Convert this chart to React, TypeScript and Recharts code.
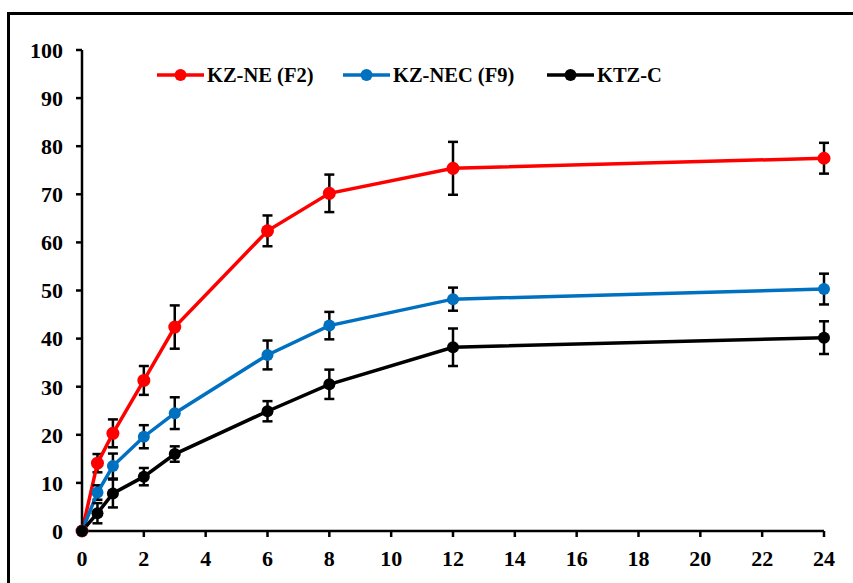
import React from 'react';
import { LineChart, Line, XAxis, YAxis, ErrorBar } from 'recharts';

const times = [0, 0.5, 1, 2, 3, 6, 8, 12, 24];
const kzNE = [0, 14.1, 20.3, 31.3, 42.4, 62.4, 70.2, 75.4, 77.5];
const kzNEErr = [0, 1.9, 2.9, 3.0, 4.5, 3.2, 3.9, 5.5, 3.2];
const kzNEC = [0, 8.0, 13.5, 19.6, 24.5, 36.6, 42.7, 48.2, 50.3];
const kzNECErr = [0, 1.5, 2.6, 2.4, 3.3, 3.0, 2.85, 2.4, 3.2];
const ktzC = [0, 3.7, 7.8, 11.3, 16.0, 24.9, 30.5, 38.2, 40.2];
const ktzCErr = [0, 2.1, 2.9, 1.8, 1.6, 2.1, 3.05, 3.9, 3.4];

const xTicks = [0, 2, 4, 6, 8, 10, 12, 14, 16, 18, 20, 22, 24];
const yTicks = [0, 10, 20, 30, 40, 50, 60, 70, 80, 90, 100];

const seriesNames = ['KZ-NE (F2)', 'KZ-NEC (F9)', 'KTZ-C'];
const seriesColors = ['#FF0000', '#0070C0', '#000000'];

const data = times.map((t, i) => ({
  t,
  ne: kzNE[i],
  neErr: kzNEErr[i],
  nec: kzNEC[i],
  necErr: kzNECErr[i],
  c: ktzC[i],
  cErr: ktzCErr[i],
}));

const FONT = "'Liberation Serif', Tinos, Times, 'DejaVu Serif', serif";
const tickStyle = { fill: '#000', fontSize: 22, fontWeight: 700, fontFamily: FONT, style: { fontFamily: FONT } };

const SerifTick = (props: any) => {
  const { x, y, payload, textAnchor, verticalAnchor } = props;
  const dy = verticalAnchor === 'start' ? '0.71em' : '0.355em';
  return (
    <text
      x={x}
      y={y}
      dy={dy}
      textAnchor={textAnchor}
      fill="#000"
      style={{ fontFamily: FONT, fontSize: 22, fontWeight: 700 }}
    >
      {payload.value}
    </text>
  );
};

const LegendItem = ({ name, color, left }: { name: string; color: string; left: number }) => (
  <div style={{ position: 'absolute', left, top: 0, display: 'flex', alignItems: 'center', whiteSpace: 'nowrap' }}>
    <svg width={47} height={14} style={{ display: 'block' }}>
      <line x1={0} y1={7} x2={47} y2={7} stroke={color} strokeWidth={3.5} />
      <circle cx={23.5} cy={7} r={6} fill={color} />
    </svg>
    <span style={{ marginLeft: 3, fontFamily: FONT, fontWeight: 700, fontSize: 20.5, color: '#000', lineHeight: '26px' }}>
      {name}
    </span>
  </div>
);

const legendLefts = [157, 343, 547];

export default function App() {
  return (
    <div style={{ position: 'absolute', left: 0, top: 0, width: 853, height: 583, overflow: 'hidden', background: '#fff' }}>
      <div
        style={{
          position: 'absolute',
          left: 7,
          top: 12,
          width: 900,
          height: 700,
          borderLeft: '3px solid #000',
          borderTop: '3px solid #000',
        }}
      />
      <div style={{ position: 'absolute', left: 0, top: 0 }}>
        <LineChart width={853} height={583} data={data} margin={{ top: 50, right: 29, bottom: 0, left: 0 }}>
          <XAxis
            dataKey="t"
            type="number"
            domain={[0, 24]}
            ticks={xTicks}
            interval={0}
            height={52}
            tick={<SerifTick />}
            tickSize={6}
            tickMargin={13}
            axisLine={{ stroke: '#000', strokeWidth: 2.5 }}
            tickLine={{ stroke: '#000', strokeWidth: 2.5 }}
          />
          <YAxis
            type="number"
            domain={[0, 100]}
            ticks={yTicks}
            interval={0}
            width={82}
            tick={<SerifTick />}
            tickSize={6}
            tickMargin={13}
            axisLine={{ stroke: '#000', strokeWidth: 2.5 }}
            tickLine={{ stroke: '#000', strokeWidth: 2.5 }}
          />
          <Line
            type="linear"
            dataKey="ne"
            stroke={seriesColors[0]}
            strokeWidth={3.5}
            dot={{ r: 6.5, fill: seriesColors[0], stroke: seriesColors[0], strokeWidth: 0 }}
            activeDot={false}
            isAnimationActive={false}
          >
            <ErrorBar dataKey="neErr" width={5} stroke="#000" strokeWidth={2.5} direction="y" />
          </Line>
          <Line
            type="linear"
            dataKey="nec"
            stroke={seriesColors[1]}
            strokeWidth={3.5}
            dot={{ r: 6, fill: seriesColors[1], stroke: seriesColors[1], strokeWidth: 0 }}
            activeDot={false}
            isAnimationActive={false}
          >
            <ErrorBar dataKey="necErr" width={5} stroke="#000" strokeWidth={2.5} direction="y" />
          </Line>
          <Line
            type="linear"
            dataKey="c"
            stroke={seriesColors[2]}
            strokeWidth={3.5}
            dot={{ r: 6, fill: seriesColors[2], stroke: seriesColors[2], strokeWidth: 0 }}
            activeDot={false}
            isAnimationActive={false}
          >
            <ErrorBar dataKey="cErr" width={5} stroke="#000" strokeWidth={2.5} direction="y" />
          </Line>
        </LineChart>
      </div>
      <div style={{ position: 'absolute', left: 0, top: 62, width: 853, height: 26 }}>
        {seriesNames.map((n, i) => (
          <LegendItem key={n} name={n} color={seriesColors[i]} left={legendLefts[i]} />
        ))}
      </div>
    </div>
  );
}
